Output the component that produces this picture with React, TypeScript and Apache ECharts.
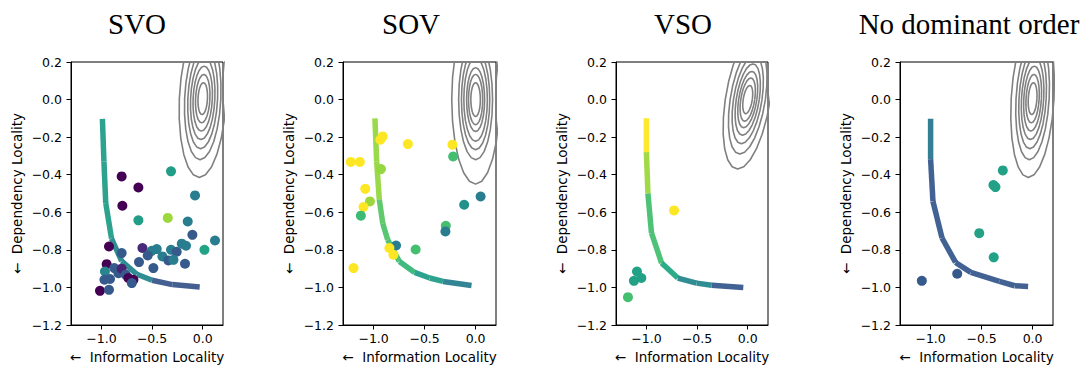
import React, { useEffect, useRef } from "react";
import * as echarts from "echarts";

// ---------- data ----------
const titles = ["SVO", "SOV", "VSO", "No dominant order"];
const xTicks = [-1.0, -0.5, 0.0];
const yTicks = [0.2, 0.0, -0.2, -0.4, -0.6, -0.8, -1.0, -1.2];
const xLabel = "\u2190  Information Locality";
const yLabel = "\u2190  Dependency Locality";

// scatter points: x, y, colour value on viridis (0..1)
const svoX = [-0.8, -0.635, -0.793, -0.313, -0.076, -0.635, -0.345, -0.148, -0.102, 0.121, 0.017, -0.925, -0.595, -0.503, -0.454, -0.543, -0.8, -0.398, -0.313, -0.257, -0.207, -0.165, -0.339, -0.289, -0.175, -0.487, -0.629, -0.948, -0.965, -0.873, -0.832, -0.8, -0.76, -0.97, -0.915, -0.734, -0.684, -0.7, -1.014, -0.925];
const svoY = [-0.409, -0.468, -0.565, -0.382, -0.51, -0.643, -0.63, -0.649, -0.72, -0.75, -0.8, -0.782, -0.79, -0.805, -0.796, -0.83, -0.817, -0.835, -0.8, -0.81, -0.767, -0.778, -0.856, -0.853, -0.874, -0.897, -0.865, -0.876, -0.915, -0.897, -0.924, -0.9, -0.932, -0.959, -0.955, -0.95, -0.959, -0.977, -1.018, -1.013];
const svoV = [0.0, 0.0, 0.0, 0.55, 0.42, 0.55, 0.85, 0.42, 0.28, 0.42, 0.58, 0.0, 0.12, 0.42, 0.42, 0.28, 0.28, 0.42, 0.42, 0.28, 0.42, 0.42, 0.28, 0.42, 0.28, 0.28, 0.28, 0.0, 0.45, 0.28, 0.28, 0.1, 0.28, 0.28, 0.28, 0.0, 0.0, 0.28, 0.0, 0.28];

const sovX = [-0.911, -0.934, -0.664, -0.227, -0.22, -1.224, -1.135, -0.928, -1.082, -1.036, -1.099, -1.125, 0.049, -0.112, -0.292, -0.296, -0.78, -0.845, -0.806, -0.588, -1.197];
const sovY = [-0.196, -0.214, -0.237, -0.24, -0.303, -0.332, -0.332, -0.37, -0.475, -0.542, -0.572, -0.618, -0.516, -0.56, -0.672, -0.702, -0.777, -0.79, -0.826, -0.798, -0.897];
const sovV = [1.0, 1.0, 1.0, 1.0, 0.7, 1.0, 1.0, 0.84, 1.0, 0.85, 1.0, 0.68, 0.42, 0.5, 0.7, 0.42, 0.42, 1.0, 1.0, 0.7, 1.0];

const vsoX = [-0.727, -1.093, -1.123, -1.05, -1.182];
const vsoY = [-0.59, -0.915, -0.965, -0.95, -1.052];
const vsoV = [1.0, 0.57, 0.57, 0.57, 0.7];

const ndoX = [-0.292, -0.384, -0.364, -0.523, -0.381, -0.739, -1.086];
const ndoY = [-0.377, -0.455, -0.466, -0.711, -0.84, -0.927, -0.965];
const ndoV = [0.57, 0.57, 0.57, 0.57, 0.57, 0.28, 0.28];

// frontier curves: vertices and colour value of each segment
const svoFrontX = [-0.99, -0.975, -0.957, -0.9, -0.8, -0.65, -0.5, -0.3, -0.03];
const svoFrontY = [-0.103, -0.33, -0.551, -0.74, -0.86, -0.93, -0.962, -0.985, -0.998];
const svoFrontV = [0.55, 0.55, 0.55, 0.46, 0.46, 0.46, 0.27, 0.27];

const sovFrontX = [-0.987, -0.97, -0.944, -0.91, -0.862, -0.747, -0.598, -0.45, -0.319, -0.04];
const sovFrontY = [-0.1, -0.33, -0.533, -0.66, -0.746, -0.862, -0.92, -0.95, -0.968, -0.99];
const sovFrontV = [0.84, 0.84, 0.74, 0.72, 0.7, 0.66, 0.55, 0.55, 0.42];

const vsoFrontX = [-1.0, -1.0, -0.985, -0.95, -0.85, -0.69, -0.505, -0.356, -0.044];
const vsoFrontY = [-0.1, -0.28, -0.5, -0.71, -0.87, -0.95, -0.977, -0.988, -1.0];
const vsoFrontV = [1.0, 0.85, 0.7, 0.7, 0.6, 0.46, 0.46, 0.28];

const ndoFrontX = [-1.0, -1.0, -0.977, -0.888, -0.755, -0.606, -0.325, -0.176, -0.044];
const ndoFrontY = [-0.102, -0.317, -0.542, -0.737, -0.867, -0.92, -0.968, -0.991, -0.995];
const ndoFrontV = [0.4, 0.28, 0.28, 0.28, 0.28, 0.28, 0.28, 0.28];

// contour (density) ellipses: centre, shear, x/y ratio, vertical radii of levels
const contourCx = [0.0, 0.0, 0.0, 0.0];
const contourCy = [0.005, 0.0, 0.0, 0.005];
const contourShear = [0.08, 0.0, 0.27, 0.1];
const contourRatio = [0.55, 0.52, 0.6, 0.5];
const svoContourRy = [0.42, 0.325, 0.267, 0.218, 0.173, 0.129, 0.085];
const sovContourRy = [0.45, 0.32, 0.267, 0.222, 0.17, 0.134, 0.09];
const vsoContourRy = [0.37, 0.29, 0.235, 0.19, 0.15, 0.115, 0.075];
const ndoContourRy = [0.42, 0.325, 0.267, 0.218, 0.173, 0.129, 0.085];

// ---------- layout ----------
const gridLeft = [71, 343, 616, 900];
const gridWidth = [152, 153, 152, 153];
const gridTop = 62;
const gridHeight = 263;
const titleX = [137, 411, 683, 969];

const VIRIDIS = ["#440154", "#482475", "#414487", "#355f8d", "#2a788e", "#21918c", "#22a884", "#44bf70", "#7ad151", "#bddf26", "#fde725"];
function hexToRgb(h: string) {
  return [parseInt(h.slice(1, 3), 16), parseInt(h.slice(3, 5), 16), parseInt(h.slice(5, 7), 16)];
}
function viridis(v: number) {
  const t = Math.max(0, Math.min(1, v)) * 10;
  const i = Math.min(9, Math.floor(t));
  const f = t - i;
  const a = hexToRgb(VIRIDIS[i]);
  const b = hexToRgb(VIRIDIS[i + 1]);
  const c = a.map((x, k) => Math.round(x + (b[k] - x) * f));
  return `rgb(${c[0]},${c[1]},${c[2]})`;
}

const fmt = (v: number) => (v < 0 ? "\u2212" : "") + Math.abs(v).toFixed(1);

export default function App() {
  const ref = useRef<HTMLDivElement>(null);
  useEffect(() => {
    if (!ref.current) return;
    const chart = echarts.init(ref.current, undefined, { renderer: "svg" });
    const panels = [
      { x: svoX, y: svoY, v: svoV, fx: svoFrontX, fy: svoFrontY, fv: svoFrontV, ry: svoContourRy },
      { x: sovX, y: sovY, v: sovV, fx: sovFrontX, fy: sovFrontY, fv: sovFrontV, ry: sovContourRy },
      { x: vsoX, y: vsoY, v: vsoV, fx: vsoFrontX, fy: vsoFrontY, fv: vsoFrontV, ry: vsoContourRy },
      { x: ndoX, y: ndoY, v: ndoV, fx: ndoFrontX, fy: ndoFrontY, fv: ndoFrontV, ry: ndoContourRy },
    ];
    const grids: any[] = [];
    const xAxes: any[] = [];
    const yAxes: any[] = [];
    const series: any[] = [];
    const graphics: any[] = [];
    const font = "DejaVu Sans";
    panels.forEach((p, i) => {
      grids.push({
        left: gridLeft[i], top: gridTop, width: gridWidth[i], height: gridHeight,
        show: true, borderColor: "#000", borderWidth: 1, backgroundColor: "transparent",
      });
      xAxes.push({
        type: "value", gridIndex: i, min: -1.3, max: 0.2,
        splitLine: { show: false },
        axisLine: { show: true, onZero: false, lineStyle: { color: "#000", width: 1 } },
        axisTick: { show: true, customValues: xTicks, length: 4.5, lineStyle: { color: "#000", width: 1 } },
        axisLabel: { customValues: xTicks, formatter: fmt, color: "#000", fontSize: 12.5, fontFamily: font, margin: 7 },
        name: xLabel, nameLocation: "middle", nameGap: 25,
        nameTextStyle: { color: "#000", fontSize: 13.5, fontFamily: font },
      });
      yAxes.push({
        type: "value", gridIndex: i, min: -1.2, max: 0.2,
        splitLine: { show: false },
        axisLine: { show: true, onZero: false, lineStyle: { color: "#000", width: 1 } },
        axisTick: { show: true, customValues: yTicks, length: 4.5, lineStyle: { color: "#000", width: 1 } },
        axisLabel: { customValues: yTicks, formatter: fmt, color: "#000", fontSize: 12.5, fontFamily: font, margin: 9 },
        name: yLabel, nameLocation: "middle", nameRotate: 90, nameGap: 47,
        nameTextStyle: { color: "#000", fontSize: 13.5, fontFamily: font },
      });
      // contours
      p.ry.forEach((r) => {
        const rx = r * contourRatio[i];
        const pts: number[][] = [];
        const N = 24;
        for (let k = 0; k <= N; k++) {
          const t = (2 * Math.PI * k) / N;
          const dy = r * Math.sin(t);
          pts.push([contourCx[i] + rx * Math.cos(t) + contourShear[i] * dy, contourCy[i] + dy]);
        }
        series.push({
          type: "line", xAxisIndex: i, yAxisIndex: i, data: pts, symbol: "none", silent: true,
          lineStyle: { color: "#808080", width: 1.6 }, z: 2, clip: true,
        });
      });
      // frontier
      for (let k = 0; k < p.fv.length; k++) {
        series.push({
          type: "line", xAxisIndex: i, yAxisIndex: i,
          data: [[p.fx[k], p.fy[k]], [p.fx[k + 1], p.fy[k + 1]]],
          symbol: "none", silent: true,
          lineStyle: { color: viridis(p.fv[k]), width: 5.5, cap: "butt", opacity: 0.95 }, z: 3,
        });
      }
      // scatter
      series.push({
        type: "scatter", xAxisIndex: i, yAxisIndex: i,
        data: p.x.map((x, k) => [x, p.y[k], p.v[k]]),
        symbolSize: 10,
        itemStyle: { color: (d: any) => viridis(d.data[2]), opacity: 1 },
        z: 4,
      });
      graphics.push({
        type: "text", x: titleX[i], y: 24,
        style: {
          text: titles[i], fill: "#000", font: "29px 'Liberation Serif'",
          textAlign: "center", textVerticalAlign: "middle",
        },
      });
    });
    chart.setOption({
      animation: false,
      backgroundColor: "#fff",
      grid: grids,
      xAxis: xAxes,
      yAxis: yAxes,
      series,
      graphic: graphics,
    });
    return () => chart.dispose();
  }, []);
  return <div ref={ref} style={{ position: "absolute", left: 0, top: 0, width: 1086, height: 369 }} />;
}
